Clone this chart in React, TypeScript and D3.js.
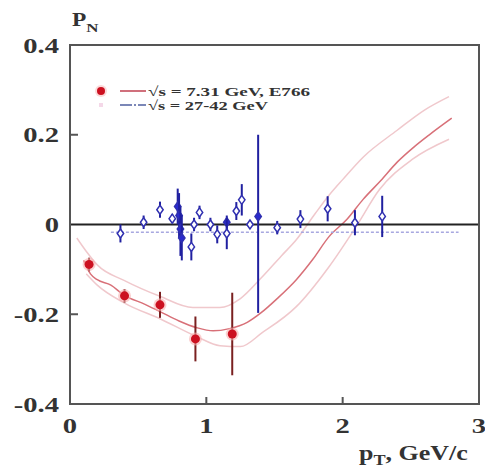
import React from "react";
import * as d3 from "d3";

// E766 data (sqrt s = 7.31 GeV)
const redPt = [0.14, 0.40, 0.66, 0.92, 1.19];
const redPN = [-0.089, -0.159, -0.179, -0.255, -0.244];
const redErr = [0.015, 0.015, 0.029, 0.05, 0.092];

// sqrt s = 27-42 GeV data
const bluePt = [0.37, 0.54, 0.66, 0.75, 0.79, 0.80, 0.81, 0.82, 0.89, 0.91, 0.95, 1.03, 1.08, 1.15, 1.15, 1.22, 1.26, 1.32, 1.38, 1.52, 1.69, 1.89, 2.09, 2.29];
const bluePN = [-0.02, 0.005, 0.033, 0.013, 0.04, 0.02, -0.01, -0.03, -0.05, 0.0, 0.027, 0.0, -0.022, 0.005, -0.02, 0.03, 0.055, 0.0, 0.018, -0.007, 0.012, 0.035, 0.004, 0.018];
const blueErrUp = [0.02, 0.015, 0.018, 0.01, 0.04, 0.05, 0.05, 0.05, 0.03, 0.015, 0.015, 0.015, 0.02, 0.015, 0.035, 0.02, 0.035, 0.01, 0.182, 0.015, 0.02, 0.028, 0.028, 0.046];
const blueErrDn = [0.02, 0.015, 0.018, 0.01, 0.04, 0.05, 0.06, 0.05, 0.03, 0.015, 0.015, 0.015, 0.02, 0.015, 0.035, 0.02, 0.035, 0.01, 0.215, 0.015, 0.02, 0.028, 0.028, 0.046];
const blueFilled = [false, false, false, false, true, true, true, true, false, false, false, false, false, true, false, false, false, false, true, false, false, false, false, false];

// Model curves
const curvePt = [0.10, 0.15, 0.20, 0.30, 0.39, 0.55, 0.66, 0.80, 0.93, 1.05, 1.17, 1.30, 1.40, 1.52, 1.66, 1.78, 1.90, 2.03, 2.15, 2.28, 2.40, 2.52, 2.64, 2.80];
const curvePN = [-0.08, -0.11, -0.123, -0.135, -0.156, -0.178, -0.194, -0.215, -0.23, -0.237, -0.232, -0.218, -0.197, -0.165, -0.123, -0.078, -0.027, 0.011, 0.056, 0.098, 0.139, 0.172, 0.201, 0.237];
const upperPt = [0.05, 0.12, 0.20, 0.40, 0.66, 0.90, 1.10, 1.25, 1.40, 1.55, 1.66, 1.80, 1.90, 2.00, 2.15, 2.40, 2.60, 2.78];
const upperPN = [-0.03, -0.06, -0.09, -0.125, -0.16, -0.185, -0.185, -0.165, -0.12, -0.07, -0.034, 0.025, 0.065, 0.10, 0.15, 0.21, 0.255, 0.285];
const lowerPt = [0.12, 0.20, 0.40, 0.66, 0.93, 1.10, 1.25, 1.41, 1.66, 1.90, 2.10, 2.27, 2.51, 2.78];
const lowerPN = [-0.11, -0.135, -0.175, -0.21, -0.25, -0.27, -0.272, -0.241, -0.183, -0.094, -0.004, 0.078, 0.145, 0.19];
const blueFitRange = [0.30, 2.85];
const blueFitPN = -0.017;

const xTicks = [0, 1, 2, 3];
const yTicks = [0.4, 0.2, 0, -0.2, -0.4];
const legendLabels = ["\u221As = 7.31 GeV, E766", "\u221As = 27-42 GeV"];

export default function App() {
  const x = d3.scaleLinear().domain([0, 3]).range([70, 479]);
  const y = d3.scaleLinear().domain([-0.4, 0.4]).range([404, 45]);
  const line = d3
    .line<[number, number]>()
    .x((d) => x(d[0]))
    .y((d) => y(d[1]))
    .curve(d3.curveMonotoneX);
  const central = line(curvePt.map((p, i) => [p, curvePN[i]]) as [number, number][]) || "";
  const upper = line(upperPt.map((p, i) => [p, upperPN[i]]) as [number, number][]) || "";
  const lower = line(lowerPt.map((p, i) => [p, lowerPN[i]]) as [number, number][]) || "";
  const font = "'Liberation Serif', 'DejaVu Serif', serif";
  const sx = 1.3;
  const diamond = (cx: number, cy: number) =>
    `M${cx},${cy - 4.5}L${cx + 3.2},${cy}L${cx},${cy + 4.5}L${cx - 3.2},${cy}Z`;

  return (
    <svg width={485} height={471} style={{ position: "absolute", left: 0, top: 0 }}>
      <rect x={0} y={0} width={485} height={471} fill="#fff" />
      {/* model band */}
      <path d={upper} fill="none" stroke="#f0c8cc" strokeWidth={1.5} />
      <path d={lower} fill="none" stroke="#f0c8cc" strokeWidth={1.5} />
      <path d={central} fill="none" stroke="#d87078" strokeWidth={1.5} />
      {/* zero line */}
      <line x1={x(0)} x2={x(3)} y1={y(0)} y2={y(0)} stroke="#222" strokeWidth={2} />
      {/* blue fit */}
      <line
        x1={x(blueFitRange[0])}
        x2={x(blueFitRange[1])}
        y1={y(blueFitPN)}
        y2={y(blueFitPN)}
        stroke="#a8a8e0"
        strokeWidth={1.5}
        strokeDasharray="3,2"
      />
      {/* frame */}
      <path
        d={`M${x(0)},${y(0.4)}H${x(3)}V${y(-0.4)}H${x(0)}Z`}
        fill="none"
        stroke="#555"
        strokeWidth={2}
      />
      {yTicks
        .filter((t) => t !== 0.4 && t !== -0.4 && t !== 0)
        .map((t) => (
          <line key={t} x1={x(0)} x2={x(0) + 8} y1={y(t)} y2={y(t)} stroke="#555" strokeWidth={2} />
        ))}
      {xTicks
        .filter((t) => t !== 0 && t !== 3)
        .map((t) => (
          <line key={t} x1={x(t)} x2={x(t)} y1={y(-0.4)} y2={y(-0.4) - 7} stroke="#555" strokeWidth={2} />
        ))}
      {/* blue data */}
      {bluePt.map((p, i) => (
        <g key={i}>
          <line
            x1={x(p)}
            x2={x(p)}
            y1={y(bluePN[i] + blueErrUp[i])}
            y2={y(bluePN[i] - blueErrDn[i])}
            stroke="#2020a0"
            strokeWidth={2}
          />
          <path
            d={diamond(x(p), y(bluePN[i]))}
            fill={blueFilled[i] ? "#2a2ad0" : "#fff"}
            stroke="#3030b0"
            strokeWidth={1.5}
          />
        </g>
      ))}
      {/* red data */}
      {redPt.map((p, i) => (
        <g key={i}>
          <line
            x1={x(p)}
            x2={x(p)}
            y1={y(redPN[i] + redErr[i])}
            y2={y(redPN[i] - redErr[i])}
            stroke="#7a2020"
            strokeWidth={2}
          />
          <circle cx={x(p)} cy={y(redPN[i])} r={6.5} fill="#f8b0b0" opacity={0.6} />
          <circle cx={x(p)} cy={y(redPN[i])} r={4.5} fill="#cc1020" />
        </g>
      ))}
      {/* legend */}
      <circle cx={101} cy={91} r={6} fill="#f8c0c0" opacity={0.6} />
      <circle cx={101} cy={91} r={4} fill="#cc1020" />
      <line x1={120} x2={146} y1={91} y2={91} stroke="#c04050" strokeWidth={1.5} />
      <text
        x={148}
        y={96}
        fontFamily={font}
        fontWeight="bold"
        fontSize={13.5}
        fill="#333"
        textLength={162}
        lengthAdjust="spacingAndGlyphs"
      >
        {legendLabels[0]}
      </text>
      <rect x={99} y={103} width={4} height={4} fill="#f4d8e8" />
      <line x1={120} x2={146} y1={105} y2={105} stroke="#5060a0" strokeWidth={1.5} strokeDasharray="12,2,2,2" />
      <text
        x={148}
        y={110}
        fontFamily={font}
        fontWeight="bold"
        fontSize={13.5}
        fill="#333"
        textLength={120}
        lengthAdjust="spacingAndGlyphs"
      >
        {legendLabels[1]}
      </text>
      {/* y tick labels */}
      {yTicks.map((t) => (
        <g key={t} transform={`translate(59,${y(t) + 7.5}) scale(${sx},1)`}>
          <text x={0} y={0} textAnchor="end" fontFamily={font} fontWeight="bold" fontSize={22} fill="#333">
            {t === 0 ? "0" : t.toFixed(1)}
          </text>
        </g>
      ))}
      {/* x tick labels */}
      {xTicks.map((t) => (
        <g key={t} transform={`translate(${x(t)},433) scale(${sx},1)`}>
          <text x={0} y={0} textAnchor="middle" fontFamily={font} fontWeight="bold" fontSize={22} fill="#333">
            {t}
          </text>
        </g>
      ))}
      {/* axis titles */}
      <g transform={`translate(72,26) scale(${sx},1)`}>
        <text x={0} y={0} fontFamily={font} fontWeight="bold" fontSize={18} fill="#333">
          P<tspan fontSize={13} dy={6}>N</tspan>
        </text>
      </g>
      <g transform={`translate(359,460) scale(${sx},1)`}>
        <text x={0} y={0} fontFamily={font} fontWeight="bold" fontSize={20} fill="#333">
          p<tspan fontSize={14} dy={5}>T</tspan>
          <tspan dy={-5}>, GeV/c</tspan>
        </text>
      </g>
    </svg>
  );
}
